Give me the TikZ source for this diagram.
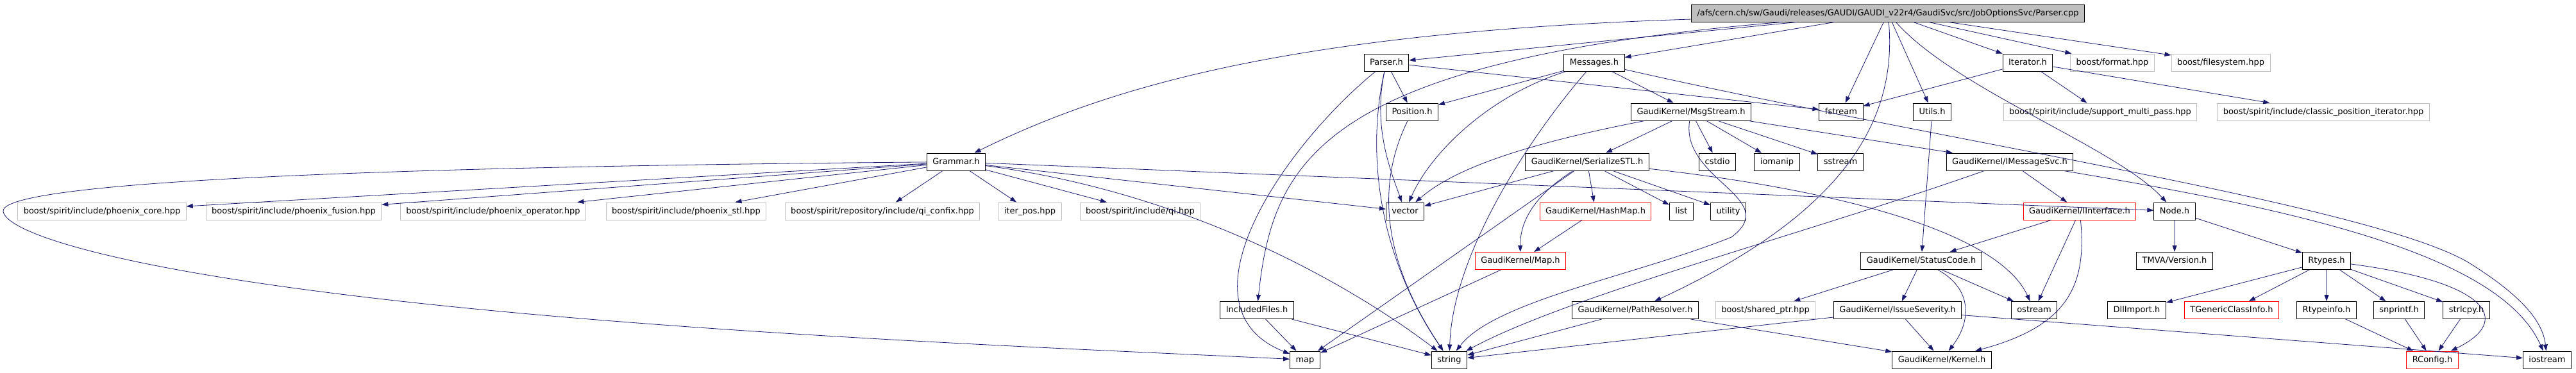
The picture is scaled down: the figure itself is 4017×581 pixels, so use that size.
\documentclass[tikz,border=0pt]{standalone}
\usepackage{fontspec}
\setmainfont{DejaVu Sans}
\usepackage{tikz}
\usetikzlibrary{arrows.meta}
\usetikzlibrary{calc}
\definecolor{edgeblue}{HTML}{191970}
\definecolor{boxgray}{HTML}{BFBFBF}
\tikzstyle{incfile} = [
    rectangle,
    draw=black,
    line width=1pt,
    minimum height=27pt,
    inner xsep=9pt,
    inner ysep=0pt,
    text height=9.5pt,
    text depth=2.5pt,
    font=\fontsize{13}{15}\selectfont
]
\tikzstyle{extfile}  = [incfile, draw=boxgray]
\tikzstyle{redfile}  = [incfile, draw=red]
\tikzstyle{mainfile} = [incfile, fill=boxgray]
\tikzstyle{dep} = [
    draw=edgeblue,
    line width=0.8pt,
    -{Triangle[length=10pt,width=7pt]}
]

\begin{document}
\begin{tikzpicture}[x=1pt, y=-1pt]
\useasboundingbox (0,0) rectangle (4017,581);

% level 0
\node[mainfile] (root) at (2944,20.5) {/afs/cern.ch/sw/Gaudi/releases/GAUDI/GAUDI\_v22r4/GaudiSvc/src/JobOptionsSvc/Parser.cpp};

% level 1
\node[incfile] (parserh)    at (2162,97.5) {Parser.h};
\node[incfile] (messages)   at (2486,97.5) {Messages.h};
\node[incfile] (iterator)   at (3162,97.5) {Iterator.h};
\node[extfile] (format)     at (3294,97.5) {boost/format.hpp};
\node[extfile] (filesystem) at (3463,97.5) {boost/filesystem.hpp};

% level 2
\node[incfile] (position)   at (2202,174.5) {Position.h};
\node[incfile] (msgstream)  at (2637,174.5) {GaudiKernel/MsgStream.h};
\node[incfile] (fstream)    at (2871,174.5) {fstream};
\node[incfile] (utils)      at (3013,174.5) {Utils.h};
\node[extfile] (multipass)  at (3275,174.5) {boost/spirit/include/support\_multi\_pass.hpp};
\node[extfile] (classicpos) at (3623,174.5) {boost/spirit/include/classic\_position\_iterator.hpp};

% level 3
\node[incfile] (grammar)    at (1491,252.5) {Grammar.h};
\node[incfile] (serialize)  at (2475,252.5) {GaudiKernel/SerializeSTL.h};
\node[incfile] (cstdio)     at (2678,252.5) {cstdio};
\node[incfile] (iomanip)    at (2771,252.5) {iomanip};
\node[incfile] (sstream)    at (2870,252.5) {sstream};
\node[incfile] (imsgsvc)    at (3134,252.5) {GaudiKernel/IMessageSvc.h};

% level 4
\node[extfile] (phcore)     at (159,329.5)  {boost/spirit/include/phoenix\_core.hpp};
\node[extfile] (phfusion)   at (458,329.5)  {boost/spirit/include/phoenix\_fusion.hpp};
\node[extfile] (phoperator) at (769,329.5)  {boost/spirit/include/phoenix\_operator.hpp};
\node[extfile] (phstl)      at (1070,329.5) {boost/spirit/include/phoenix\_stl.hpp};
\node[extfile] (qiconfix)   at (1376,329.5) {boost/spirit/repository/include/qi\_confix.hpp};
\node[extfile] (iterpos)    at (1606,329.5) {iter\_pos.hpp};
\node[extfile] (qi)         at (1778,329.5) {boost/spirit/include/qi.hpp};
\node[incfile] (vector)     at (2191,329.5) {vector};
\node[redfile] (hashmap)    at (2488,329.5) {GaudiKernel/HashMap.h};
\node[incfile] (list)       at (2622,329.5) {list};
\node[incfile] (utility)    at (2695,329.5) {utility};
\node[redfile] (iinterface) at (3243,329.5) {GaudiKernel/IInterface.h};
\node[incfile] (node)       at (3391,329.5) {Node.h};

% level 5
\node[redfile] (maph)       at (2371,407) {GaudiKernel/Map.h};
\node[incfile] (statuscode) at (2996,407) {GaudiKernel/StatusCode.h};
\node[incfile] (version)    at (3391,407) {TMVA/Version.h};
\node[incfile] (rtypes)     at (3628,407) {Rtypes.h};

% level 6
\node[incfile] (included)   at (1960,484) {IncludedFiles.h};
\node[incfile] (pathres)    at (2550,484) {GaudiKernel/PathResolver.h};
\node[extfile] (sharedptr)  at (2753,484) {boost/shared\_ptr.hpp};
\node[incfile] (severity)   at (2959,484) {GaudiKernel/IssueSeverity.h};
\node[incfile] (ostream)    at (3172,484) {ostream};
\node[incfile] (dllimport)  at (3332,484) {DllImport.h};
\node[redfile] (tgeneric)   at (3480,484) {TGenericClassInfo.h};
\node[incfile] (rtypeinfo)  at (3628,484) {Rtypeinfo.h};
\node[incfile] (snprintf)   at (3741,484) {snprintf.h};
\node[incfile] (strlcpy)    at (3846,484) {strlcpy.h};

% level 7
\node[incfile] (map)        at (2035,561.5) {map};
\node[incfile] (string)     at (2260,561.5) {string};
\node[incfile] (kernel)     at (3028,561.5) {GaudiKernel/Kernel.h};
\node[redfile] (rconfig)    at (3793,561.5) {RConfig.h};
\node[incfile] (iostream)   at (3972,561.5) {iostream};

% Parser.cpp
\draw[dep] (root) .. controls (2000,50) and (1720,140) .. (grammar);
\draw[dep] (root) -- (parserh);
\draw[dep] (root) -- (messages);
\draw[dep] (root) .. controls (2060,95) and (1985,250) .. (included);
\draw[dep] (root) -- (fstream);
\draw[dep] (root) .. controls (2960,200) and (2860,340) .. (pathres);
\draw[dep] (root) -- (utils);
\draw[dep] (root) .. controls (3050,140) and (3300,230) .. (node);
\draw[dep] (root) -- (iterator);
\draw[dep] (root) -- (format);
\draw[dep] (root) -- (filesystem);

% Parser.h
\draw[dep] (parserh) -- (position);
\draw[dep] (parserh) -- (fstream);
\draw[dep] (parserh) .. controls (2130,240) and (2150,400) .. (string);
\draw[dep] (parserh) .. controls (2140,200) and (2170,270) .. (vector);
\draw[dep] (parserh) .. controls (2000,230) and (1830,480) .. (map);

% Messages.h
\draw[dep] (messages) -- (position);
\draw[dep] (messages) -- (msgstream);
\draw[dep] (messages) .. controls (2320,150) and (2230,240) .. (vector);
\draw[dep] (messages) .. controls (2380,220) and (2265,400) .. (string);
\draw[dep] (messages) .. controls (3000,215) and (3700,320) .. (3850,410) .. controls (3930,460) and (3965,500) .. (iostream);

\draw[dep] (position) .. controls (2140,300) and (2165,420) .. (string);

% Grammar.h
\draw[dep] (grammar) -- (phcore);
\draw[dep] (grammar) -- (phfusion);
\draw[dep] (grammar) -- (phoperator);
\draw[dep] (grammar) -- (phstl);
\draw[dep] (grammar) -- (qiconfix);
\draw[dep] (grammar) -- (iterpos);
\draw[dep] (grammar) -- (qi);
\draw[dep] (grammar) -- (vector);
\draw[dep] (grammar) .. controls (1850,300) and (2100,440) .. (string);
\draw[dep] (grammar) -- (node);
\draw[dep] (grammar) .. controls (250,263) and (0,300) .. (5,330) .. controls (10,360) and (150,410) .. (500,455) .. controls (1000,520) and (1700,545) .. (map);

% Iterator.h
\draw[dep] (iterator) -- (fstream);
\draw[dep] (iterator) -- (multipass);
\draw[dep] (iterator) -- (classicpos);

\draw[dep] (included) -- (map);
\draw[dep] (included) -- (string);

% MsgStream.h
\draw[dep] (msgstream) -- (serialize);
\draw[dep] (msgstream) -- (cstdio);
\draw[dep] (msgstream) -- (iomanip);
\draw[dep] (msgstream) -- (sstream);
\draw[dep] (msgstream) -- (imsgsvc);
\draw[dep] (msgstream) .. controls (2350,230) and (2260,270) .. (vector);
\draw[dep] (msgstream) .. controls (2620,280) and (2780,310) .. (2700,370) .. controls (2550,430) and (2330,470) .. (string);

% SerializeSTL.h
\draw[dep] (serialize) -- (vector);
\draw[dep] (serialize) .. controls (2400,300) and (2370,340) .. (maph);
\draw[dep] (serialize) -- (map);
\draw[dep] (serialize) -- (hashmap);
\draw[dep] (serialize) -- (list);
\draw[dep] (serialize) -- (utility);
\draw[dep] (serialize) .. controls (2900,300) and (3120,370) .. (ostream);

\draw[dep] (hashmap) -- (maph);
\draw[dep] (maph) -- (map);

% IMessageSvc.h
\draw[dep] (imsgsvc) -- (iinterface);
\draw[dep] (imsgsvc) .. controls (2800,370) and (2450,460) .. (string);
\draw[dep] (imsgsvc) .. controls (3600,330) and (3900,400) .. (iostream);

% IInterface.h
\draw[dep] (iinterface) -- (statuscode);
\draw[dep] (iinterface) -- (ostream);
\draw[dep] (iinterface) .. controls (3255,450) and (3220,510) .. (kernel);

\draw[dep] (utils) -- (statuscode);

% StatusCode.h
\draw[dep] (statuscode) -- (sharedptr);
\draw[dep] (statuscode) -- (severity);
\draw[dep] (statuscode) -- (ostream);
\draw[dep] (statuscode) .. controls (3075,450) and (3075,500) .. (kernel);

% IssueSeverity.h
\draw[dep] (severity) -- (kernel);
\draw[dep] (severity) -- (iostream);
\draw[dep] (severity) -- (string);

\draw[dep] (pathres) -- (string);
\draw[dep] (pathres) -- (kernel);

% Node.h
\draw[dep] (node) -- (version);
\draw[dep] (node) -- (rtypes);

% Rtypes.h
\draw[dep] (rtypes) -- (dllimport);
\draw[dep] (rtypes) -- (tgeneric);
\draw[dep] (rtypes) -- (rtypeinfo);
\draw[dep] (rtypes) -- (snprintf);
\draw[dep] (rtypes) -- (strlcpy);
\draw[dep] (rtypes) .. controls (3880,440) and (3920,500) .. (rconfig);
\draw[dep] (rtypeinfo) -- (rconfig);
\draw[dep] (snprintf) -- (rconfig);
\draw[dep] (strlcpy) -- (rconfig);

\end{tikzpicture}
\end{document}
